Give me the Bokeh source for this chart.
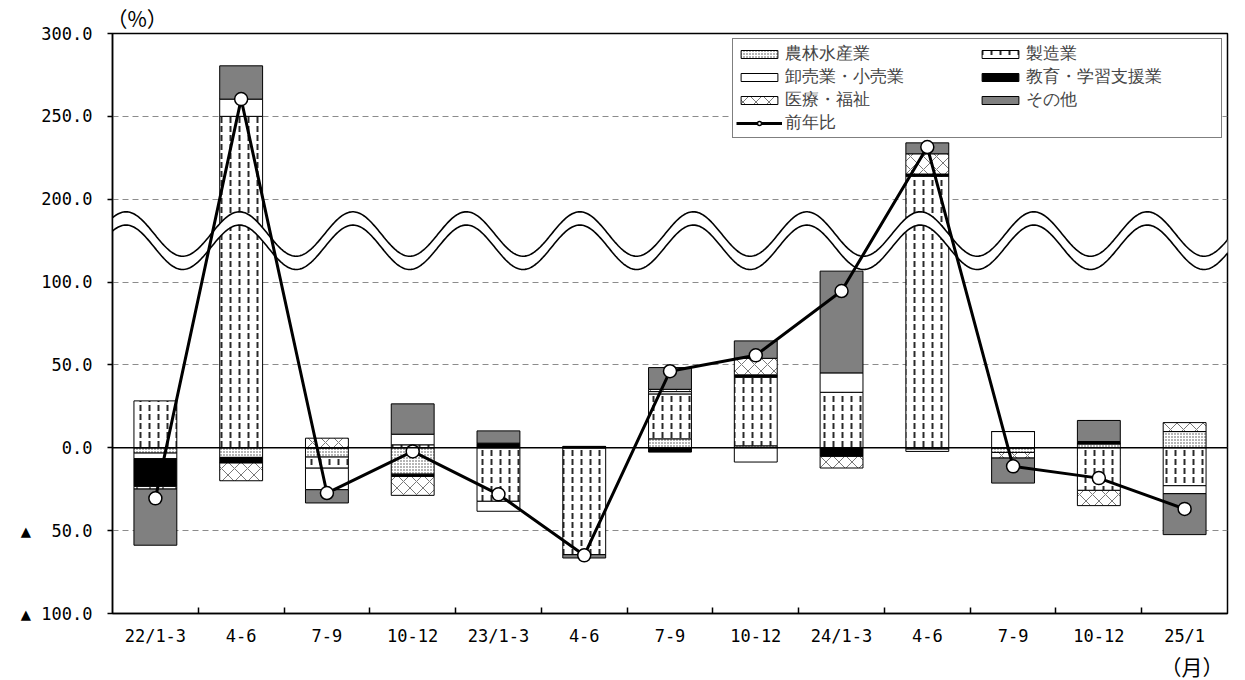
import numpy as np
from bokeh.plotting import figure
from bokeh.models import (ColumnDataSource, FixedTicker, Span, Title, Legend, LegendItem)
from bokeh.embed import file_html
from bokeh.resources import INLINE

# ---------------- data (values as read on the chart's axis labels, %) ----------------
categories = ["22/1-3", "4-6", "7-9", "10-12", "23/1-3", "4-6", "7-9", "10-12",
              "24/1-3", "4-6", "7-9", "10-12", "25/1"]

agri    = [-3.2, -5.8, -5.6, -15.9, 0.0, 0.0, 5.4, 1.2, 0.0, -0.8, -2.8, 2.4, 9.8]
manuf   = [28.3, 250.0, -6.7, 1.8, -32.3, -64.5, 27.1, 41.4, 33.5, 213.9, 0.0, -25.7, -22.9]
trade   = [-3.4, 10.4, -13.0, 6.4, -6.0, 0.0, 1.4, -8.6, 11.7, -1.4, 9.8, 0.0, -4.8]
edu     = [-16.7, -3.4, 0.0, -1.4, 2.8, 0.8, -2.6, 1.4, -5.2, 1.3, 0.0, 1.4, 0.0]
medical = [-1.6, -10.7, 5.8, -11.4, 0.0, 0.0, 1.4, 10.0, -7.0, 12.2, -3.4, -9.2, 5.4]
other   = [-33.9, 20.1, -8.0, 18.3, 7.4, -2.0, 13.1, 10.5, 61.4, 6.6, -15.1, 12.7, -24.7]
yoy     = [-30.5, 260.4, -27.3, -2.2, -28.1, -64.9, 46.2, 55.8, 94.6, 231.5, -11.2, -18.3, -36.9]

series_names = ["農林水産業", "製造業", "卸売業・小売業", "教育・学習支援業", "医療・福祉", "その他"]
line_name = "前年比"

ytick_values = [-100, -50, 0, 50, 100, 200, 250, 300]
ytick_labels = ["▲\u00a0100.0", "▲\u00a0\u00a050.0", "0.0", "50.0", "100.0", "200.0", "250.0", "300.0"]


# broken axis: 120..180 is squeezed behind the wave, above it values are shifted by 50
def brk(v):
    v = np.asarray(v, dtype=float)
    return np.where(v <= 120, v, np.where(v >= 180, v - 50, 120 + (v - 120) * (10.0 / 60.0)))


styles = [
    dict(fill_color="white", hatch_pattern="dot", hatch_color="#444444", hatch_scale=3, hatch_weight=1.2),
    dict(fill_color="white", hatch_pattern="vertical_dash", hatch_color="#2a2a2a", hatch_scale=9, hatch_weight=2),
    dict(fill_color="white"),
    dict(fill_color="black"),
    dict(fill_color="white", hatch_pattern="diagonal_cross", hatch_color="#777777", hatch_scale=13, hatch_weight=1),
    dict(fill_color="#808080"),
]

p = figure(width=1245, height=680, output_backend="svg", toolbar_location=None,
           x_range=(-0.5, 12.5), y_range=(-100, 250),
           min_border_left=112, min_border_right=18, min_border_top=33, min_border_bottom=66)
p.background_fill_color = "white"
p.border_fill_color = "white"
p.outline_line_color = "black"
p.outline_line_width = 1.5
p.xgrid.visible = False

ytick_pos = [int(t) for t in brk(ytick_values)]
p.ygrid.ticker = FixedTicker(ticks=ytick_pos)
p.ygrid.grid_line_color = "#8c8c8c"
p.ygrid.grid_line_dash = "6 4"
p.ygrid.grid_line_width = 1

p.yaxis.ticker = FixedTicker(ticks=ytick_pos)
p.yaxis.major_label_overrides = {pos: lab for pos, lab in zip(ytick_pos, ytick_labels)}
p.yaxis.major_tick_in = 0
p.yaxis.major_tick_out = 5
p.yaxis.minor_tick_line_color = None
p.yaxis.major_label_standoff = 15

xpos = list(range(len(categories)))
p.xaxis.ticker = FixedTicker(ticks=xpos, minor_ticks=[i + 0.5 for i in xpos[:-1]])
p.xaxis.major_label_overrides = {i: c for i, c in zip(xpos, categories)}
p.xaxis.major_tick_in = 0
p.xaxis.major_tick_out = 0
p.xaxis.minor_tick_in = 6
p.xaxis.minor_tick_out = 0
p.xaxis.minor_tick_line_color = "black"
p.xaxis.minor_tick_line_width = 1.5
p.xaxis.major_label_standoff = 12

for ax in (p.xaxis, p.yaxis):
    ax.axis_line_color = "black"
    ax.axis_line_width = 1.5
    ax.major_tick_line_color = "black"
    ax.major_tick_line_width = 1.5
    ax.major_label_text_font = "DejaVu Sans Mono"
    ax.major_label_text_font_size = "17px"
    ax.major_label_text_color = "black"

# ---------- stacked bars ----------
all_series = [agri, manuf, trade, edu, medical, other]
pos_cum = np.zeros(len(categories))
neg_cum = np.zeros(len(categories))
bar_renderers = []
for vals, st in zip(all_series, styles):
    v = np.array(vals, dtype=float)
    bottom = np.where(v >= 0, pos_cum, neg_cum + v)
    top = np.where(v >= 0, pos_cum + v, neg_cum)
    pos_cum = pos_cum + np.where(v >= 0, v, 0)
    neg_cum = neg_cum + np.where(v < 0, v, 0)
    src = ColumnDataSource(dict(x=xpos, top=brk(top), bottom=brk(bottom)))
    r = p.vbar(x="x", width=0.5, top="top", bottom="bottom", source=src,
               line_color="black", line_width=1, **st)
    bar_renderers.append(r)

p.add_layout(Span(location=0, dimension="width", line_color="black", line_width=1.5))

# ---------- axis-break wave ----------
wx = np.linspace(-0.7, 12.7, 900)
phase = 2 * np.pi * (wx - 0.98) / 1.323
w_top = 129.0 + 13.4 * np.cos(phase)
w_bot = w_top - 8.0
p.patch(np.concatenate([wx, wx[::-1]]), np.concatenate([w_top, w_bot[::-1]]),
        fill_color="white", line_color=None)
p.line(wx, w_top, line_color="black", line_width=1.6)
p.line(wx, w_bot, line_color="black", line_width=1.6)

# ---------- YoY line ----------
lsrc = ColumnDataSource(dict(x=xpos, y=brk(yoy)))
lr = p.line("x", "y", source=lsrc, line_color="black", line_width=3)
sr = p.scatter("x", "y", source=lsrc, marker="circle", size=13, fill_color="white",
               line_color="black", line_width=1.5)

# ---------- legend ----------
items = [LegendItem(label=n, renderers=[r]) for n, r in zip(series_names, bar_renderers)]
items.append(LegendItem(label=line_name, renderers=[lr, sr]))
legend = Legend(items=items, location="top_right", orientation="horizontal", ncols=2,
                label_text_font="DejaVu Sans", label_text_font_size="17px",
                label_text_line_height=0.8,
                label_height=16, glyph_height=10, glyph_width=46, label_standoff=3,
                label_width=192, spacing=0, padding=3, margin=5,
                border_line_color="black", border_line_width=1.5,
                background_fill_color="white", background_fill_alpha=1.0)
p.add_layout(legend)

p.add_layout(Title(text="（%）", align="left", offset=-6, standoff=1,
                   text_font="Noto Sans CJK JP", text_font_size="21px",
                   text_font_style="normal", text_color="black"), "above")
p.add_layout(Title(text="（月）", align="right", offset=4, standoff=0,
                   text_font="Noto Sans CJK JP", text_font_size="21px",
                   text_font_style="normal", text_color="black"), "below")

open("out.html", "w").write(file_html(p, INLINE))
